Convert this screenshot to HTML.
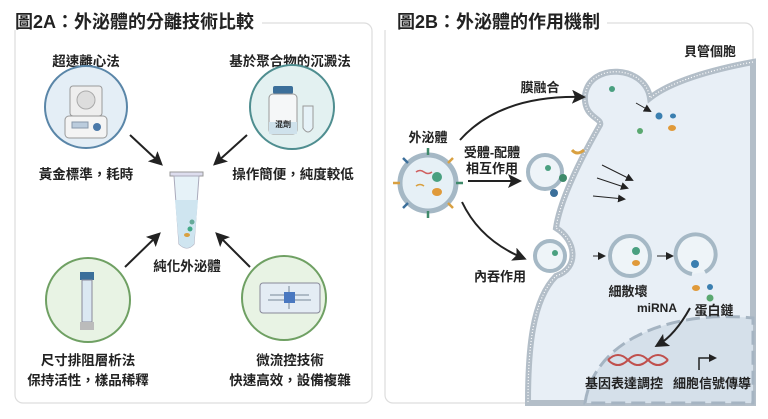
<!DOCTYPE html>
<html><head><meta charset="utf-8"><style>
html,body{margin:0;padding:0;background:#fff;}
svg{display:block;}
text{font-family:"Liberation Sans","Noto Sans CJK TC",sans-serif;fill:#222;font-weight:bold;}
</style></head><body>
<svg width="768" height="419" viewBox="0 0 768 419" xmlns="http://www.w3.org/2000/svg">
<defs>
<marker id="ah" markerWidth="8" markerHeight="8" refX="6" refY="4" orient="auto" markerUnits="userSpaceOnUse"><path d="M0,0 L8,4 L0,8 Z" fill="#222"/></marker>
<marker id="ahb" markerWidth="14" markerHeight="14" refX="10" refY="7" orient="auto" markerUnits="userSpaceOnUse"><path d="M0,0 L14,7 L0,14 L3,7 Z" fill="#222"/></marker>
</defs>
<!-- Left panel -->
<rect x="15" y="23" width="357" height="380" rx="8" fill="#fff" stroke="#ddd" stroke-width="1.2"/>
<rect x="12" y="8" width="250" height="22" fill="#fff"/>
<text x="15" y="28" font-size="18">圖2A：外泌體的分離技術比較</text>

<text x="86" y="66" font-size="13.5" text-anchor="middle">超速離心法</text>
<circle cx="86" cy="107" r="41" fill="#e4eef6" stroke="#5a86a8" stroke-width="2"/>
<rect x="70" y="86" width="32" height="30" rx="3" fill="#eee" stroke="#999"/>
<circle cx="86" cy="100" r="9" fill="#ddd" stroke="#aaa"/>
<rect x="65" y="116" width="42" height="22" rx="4" fill="#f4f4f4" stroke="#999"/>
<rect x="72" y="122" width="16" height="6" fill="#bcd" stroke="#89a"/>
<circle cx="97" cy="127" r="4" fill="#4a78a8"/>
<text x="86" y="179" font-size="13.5" text-anchor="middle">黃金標準，耗時</text>

<text x="290" y="66" font-size="13.5" text-anchor="middle">基於聚合物的沉澱法</text>
<circle cx="292" cy="107" r="42" fill="#e3f1f1" stroke="#4f8e90" stroke-width="2"/>
<rect x="273" y="86" width="20" height="8" rx="2" fill="#3b6f9a"/>
<rect x="269" y="94" width="28" height="40" rx="4" fill="#f5f7f8" stroke="#999"/>
<rect x="269" y="122" width="28" height="12" fill="#cfe2ec"/>
<text x="283" y="127" font-size="8" text-anchor="middle" font-weight="normal">混劑</text>
<path d="M303 106 h10 v22 q-5 8 -10 0 Z" fill="#e6f2f8" stroke="#999"/>
<text x="293" y="179" font-size="13.5" text-anchor="middle">操作簡便，純度較低</text>

<!-- tube -->
<rect x="170" y="172" width="33" height="4" fill="#dde" stroke="#999"/>
<path d="M174 176 h25 l-5 68 q-7 8 -15 0 Z" fill="#e6f2f8" stroke="#aab"/>
<path d="M175 200 h23 l-4 44 q-7 8 -15 0 Z" fill="#cfe5f0"/>
<circle cx="192" cy="222" r="2.5" fill="#6a9"/><circle cx="190" cy="229" r="2.5" fill="#4a8"/><ellipse cx="187" cy="235" rx="3" ry="2" fill="#d9a040"/>
<text x="187" y="271" font-size="13.5" text-anchor="middle">純化外泌體</text>

<line x1="130" y1="135" x2="160" y2="163" stroke="#222" stroke-width="2" marker-end="url(#ahb)"/>
<line x1="247" y1="135" x2="216" y2="163" stroke="#222" stroke-width="2" marker-end="url(#ahb)"/>
<line x1="125" y1="267" x2="158" y2="235" stroke="#222" stroke-width="2" marker-end="url(#ahb)"/>
<line x1="250" y1="267" x2="218" y2="235" stroke="#222" stroke-width="2" marker-end="url(#ahb)"/>

<circle cx="88" cy="300" r="42" fill="#e8f3e4" stroke="#6fa063" stroke-width="2"/>
<rect x="80" y="272" width="14" height="8" fill="#3b6f9a"/>
<rect x="82" y="280" width="10" height="42" fill="#dbe8f2" stroke="#889"/>
<rect x="80" y="322" width="14" height="8" fill="#bbb"/>
<text x="88" y="365" font-size="13.5" text-anchor="middle">尺寸排阻層析法</text>
<text x="88" y="385" font-size="13.5" text-anchor="middle">保持活性，樣品稀釋</text>

<circle cx="284" cy="298" r="42" fill="#e8f3e4" stroke="#6fa063" stroke-width="2"/>
<rect x="260" y="283" width="60" height="30" rx="3" fill="#e4ecf4" stroke="#889"/>
<rect x="284" y="292" width="11" height="11" fill="#4a78c0"/>
<path d="M284 295 h-14 M284 300 h-16 M295 295 h14 M295 300 h16 M289 292 v-6 M289 303 v6" stroke="#789" stroke-width="1"/>
<text x="290" y="365" font-size="13.5" text-anchor="middle">微流控技術</text>
<text x="290" y="385" font-size="13.5" text-anchor="middle">快速高效，設備複雜</text>

<!-- Right panel -->
<rect x="385" y="23" width="368" height="380" rx="8" fill="#fff" stroke="#ddd" stroke-width="1.2"/>
<rect x="382" y="8" width="225" height="22" fill="#fff"/>
<text x="397" y="28" font-size="18">圖2B：外泌體的作用機制</text>

<path d="M753 62 C710 70 670 82 650 98 C645 65 590 62 585 95 C583 118 603 118 600 125 C580 160 560 200 556 228 C576 240 580 268 556 276 C532 300 528 350 528 403 L753 403 Z" fill="#e8eff6" stroke="#b3bec8" stroke-width="6"/>
<path d="M753 62 C710 70 670 82 650 98 C645 65 590 62 585 95 C583 118 603 118 600 125 C580 160 560 200 556 228 C576 240 580 268 556 276 C532 300 528 350 528 403" fill="none" stroke="#fff" stroke-width="1.2" stroke-dasharray="1 2"/>
<path d="M585 403 C595 335 680 310 753 318 L753 403 Z" fill="#d5e0ea" stroke="#a5b4c2" stroke-width="3" stroke-dasharray="14 6"/>
<text x="710" y="56" font-size="13" text-anchor="middle">貝管個胞</text>

<circle cx="428" cy="183" r="28" fill="#e6f0f6" stroke="#a5b8c5" stroke-width="5"/>
<circle cx="437" cy="177" r="5" fill="#4aa080"/><ellipse cx="437" cy="192" rx="5" ry="4" fill="#e09a3a"/>
<path d="M416 172 q4 -3 8 0 q4 3 8 0" stroke="#d06060" fill="none" stroke-width="1.5"/>
<path d="M416 186 q4 -3 8 0" stroke="#d9a040" fill="none" stroke-width="1.5"/>
<g stroke-width="2.5"><line x1="428" y1="155" x2="428" y2="148" stroke="#3f8a6a"/><line x1="428" y1="211" x2="428" y2="218" stroke="#3f8a6a"/><line x1="400" y1="183" x2="393" y2="183" stroke="#d9a040"/><line x1="456" y1="183" x2="463" y2="183" stroke="#3f8a6a"/><line x1="408" y1="163" x2="403" y2="158" stroke="#3b6f9a"/><line x1="448" y1="163" x2="453" y2="158" stroke="#d9a040"/><line x1="408" y1="203" x2="403" y2="208" stroke="#3b6f9a"/><line x1="448" y1="203" x2="453" y2="208" stroke="#d9a040"/></g>
<text x="428" y="142" font-size="13" text-anchor="middle">外泌體</text>

<path d="M460 140 Q500 95 582 97" fill="none" stroke="#222" stroke-width="2" marker-end="url(#ahb)"/>
<text x="540" y="92" font-size="13" text-anchor="middle">膜融合</text>
<line x1="468" y1="181" x2="518" y2="181" stroke="#222" stroke-width="2" marker-end="url(#ahb)"/>
<text x="492" y="157" font-size="13" text-anchor="middle">受體-配體</text>
<text x="492" y="173" font-size="13" text-anchor="middle">相互作用</text>
<path d="M462 202 Q480 240 523 258" fill="none" stroke="#222" stroke-width="2" marker-end="url(#ahb)"/>
<text x="500" y="281" font-size="13" text-anchor="middle">內吞作用</text>

<circle cx="545" cy="172" r="17" fill="#eef4f8" stroke="#a5b8c5" stroke-width="4"/>
<circle cx="548" cy="168" r="3" fill="#4aa080"/>
<circle cx="563" cy="178" r="4" fill="#3f8a6a"/><circle cx="554" cy="193" r="4" fill="#3b6f9a"/><path d="M572 150 q5 6 12 0" stroke="#d9a040" stroke-width="3" fill="none"/>
<line x1="602" y1="165" x2="632" y2="180" stroke="#222" marker-end="url(#ah)"/>
<line x1="597" y1="178" x2="627" y2="188" stroke="#222" marker-end="url(#ah)"/>
<line x1="593" y1="196" x2="624" y2="199" stroke="#222" marker-end="url(#ah)"/>

<circle cx="612" cy="89" r="3" fill="#4aa080"/>
<line x1="636" y1="103" x2="650" y2="111" stroke="#222" marker-end="url(#ah)"/>
<circle cx="659" cy="116" r="3.5" fill="#3b7fb0"/><circle cx="640" cy="131" r="3" fill="#5aa870"/><ellipse cx="672" cy="128" rx="4" ry="3" fill="#e09a3a"/><ellipse cx="673" cy="116" rx="3" ry="2.5" fill="#3b7fb0"/>

<circle cx="550" cy="256" r="15" fill="#eef4f8" stroke="#a5b8c5" stroke-width="4"/>
<circle cx="555" cy="253" r="3" fill="#4aa080"/>
<line x1="593" y1="256" x2="604" y2="256" stroke="#222" marker-end="url(#ah)"/>
<circle cx="630" cy="256" r="20" fill="#eef4f8" stroke="#a5b8c5" stroke-width="4"/>
<circle cx="636" cy="251" r="4" fill="#4aa080"/><ellipse cx="636" cy="263" rx="4" ry="3" fill="#e09a3a"/>
<text x="628" y="296" font-size="13" text-anchor="middle">細散壞</text>
<line x1="657" y1="256" x2="672" y2="256" stroke="#222" marker-end="url(#ah)"/>
<path d="M705 272 A20 20 0 1 0 692 274" fill="#eef4f8" stroke="#a5b8c5" stroke-width="4"/>
<circle cx="695" cy="264" r="4" fill="#3b7fb0"/><circle cx="710" cy="287" r="3" fill="#3b7fb0"/><circle cx="710" cy="298" r="3.5" fill="#5aa870"/><ellipse cx="696" cy="288" rx="4" ry="3" fill="#e09a3a"/>
<text x="657" y="312" font-size="12" text-anchor="middle" font-weight="normal">miRNA</text>
<text x="714" y="315" font-size="13" text-anchor="middle">蛋白鏈</text>
<path d="M690 308 Q675 335 658 345" fill="none" stroke="#222" stroke-width="2" marker-end="url(#ahb)"/>
<path d="M608 360 q10 -10 20 0 t20 0 t20 0 M608 360 q10 10 20 0 t20 0 t20 0" stroke="#c0504d" stroke-width="2" fill="none"/>
<path d="M699 370 v-12 h16" stroke="#222" stroke-width="1.5" fill="none" marker-end="url(#ah)"/>
<text x="624" y="388" font-size="13" text-anchor="middle">基因表達調控</text>
<text x="712" y="388" font-size="13" text-anchor="middle">細胞信號傳導</text>
</svg>
</body></html>
